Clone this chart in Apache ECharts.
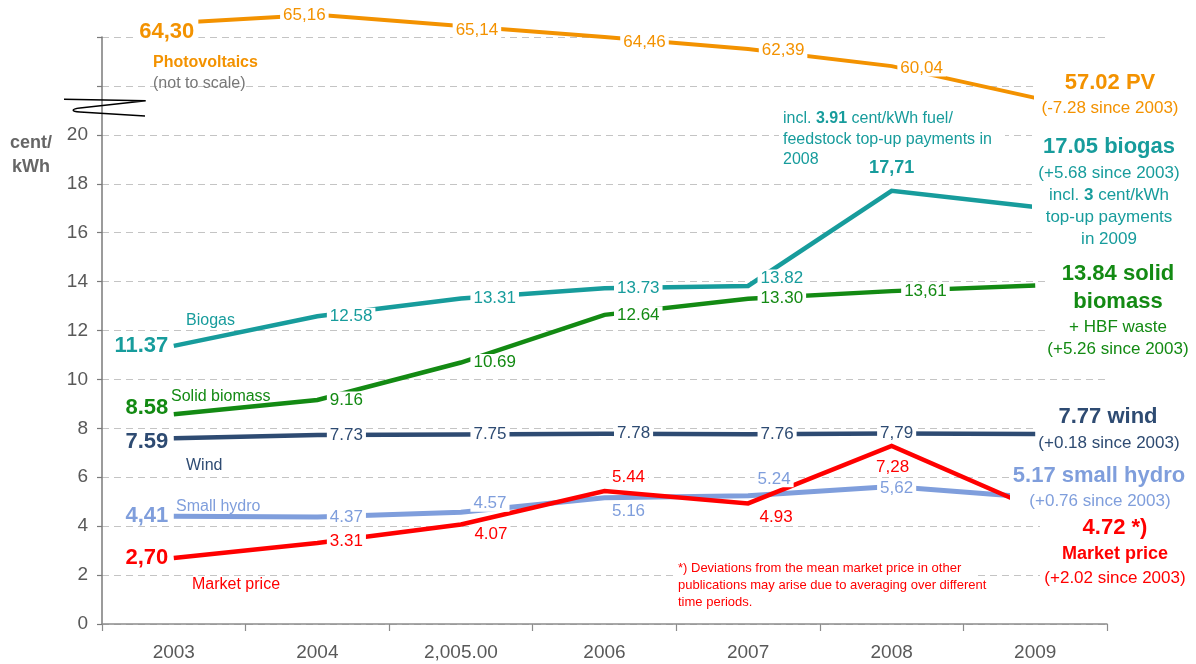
<!DOCTYPE html>
<html><head><meta charset="utf-8">
<script src="https://cdn.jsdelivr.net/npm/echarts@6/dist/echarts.min.js"></script>
<style>html,body{margin:0;padding:0;background:#fff}#c{width:1196px;height:664px}</style>
</head><body><div id="c"></div>
<script>
// ---------- data ----------
const years = ['2003', '2004', '2,005.00', '2006', '2007', '2008', '2009'];
const pvValues = [64.30, 65.16, 65.14, 64.46, 62.39, 60.04, 57.02];
// PV drawn "not to scale" above the axis break: heights
const pvPlotted = [24.57, 24.91, 24.45, 24.00, 23.51, 22.81, 21.51];
const biogas = [11.37, 12.58, 13.31, 13.73, 13.82, 17.71, 17.05];
const solidBiomass = [8.58, 9.16, 10.69, 12.64, 13.30, 13.61, 13.84];
const wind = [7.59, 7.73, 7.75, 7.78, 7.76, 7.79, 7.77];
const smallHydro = [4.41, 4.37, 4.57, 5.16, 5.24, 5.62, 5.17];
const marketPrice = [2.70, 3.31, 4.07, 5.44, 4.93, 7.28, 4.72];
const yTickLabels = [0, 2, 4, 6, 8, 10, 12, 14, 16, 18, 20];

// ---------- styles ----------
const FONT = '"Liberation Sans", Arial, Helvetica, sans-serif';
const C = {pv:'#F39200', biogas:'#179C9C', biomass:'#138A13', wind:'#2E4B72', hydro:'#7F9EDC', market:'#FF0000', axis:'#595959', grid:'#C4C4C4'};

// label placement per point (style only)
const pvLab = [
  {p:'inside', o:[-7,9], bold:true, size:22, comma:true, pad:[2,4]},
  {p:'inside', o:[-13,1], comma:true},
  {p:'inside', o:[16,4], comma:true},
  {p:'inside', o:[40,5], comma:true},
  {p:'inside', o:[35,1], comma:true},
  {p:'inside', o:[30,2], comma:true},
  null];
const biogasLab = [
  {p:'left', d:5, bold:true, size:22, bg:false},
  {p:'right'}, {p:'right'}, {p:'right'}, {p:'right', o:[0,-8]},
  {p:'top', d:13, bold:true, size:18, comma:true, bg:false},
  null];
const biomassLab = [
  {p:'left', d:5, bold:true, size:22, bg:false, o:[0,-6]},
  {p:'right'}, {p:'right'}, {p:'right'}, {p:'right'}, {p:'right', comma:true},
  null];
const windLab = [
  {p:'left', d:5, bold:true, size:22, bg:false, o:[0,4]},
  {p:'right'}, {p:'right'}, {p:'right'}, {p:'right'},
  {p:'inside', o:[5,0], comma:true},
  null];
const hydroLab = [
  {p:'left', d:5, bold:true, size:22, bg:false, comma:true},
  {p:'right'}, {p:'right', o:[0,-9]},
  {p:'inside', o:[24,14]}, {p:'inside', o:[26,-17]},
  {p:'inside', o:[5,2], comma:true},
  null];
const marketLab = [
  {p:'left', d:5, bold:true, size:22, bg:false, comma:true},
  {p:'right', o:[0,-2]},
  {p:'inside', o:[30,10]}, {p:'inside', o:[24,-14]}, {p:'inside', o:[28,14]},
  {p:'inside', o:[1,21], comma:true},
  null];

function fmt(v, comma){ const s = v.toFixed(2); return comma ? s.replace('.', ',') : s; }

function labelItems(plotted, shown, color, cfgs){
  return plotted.map((v, i) => {
    const c = cfgs[i];
    if (!c) return {value: v, label: {show: false}};
    const bg = c.bg !== false;
    return {value: v, label: {
      show: true, position: c.p, distance: c.d != null ? c.d : 9, offset: c.o || [0,0],
      formatter: fmt(shown[i], c.comma), color: color, fontFamily: FONT,
      fontSize: c.size || 17, fontWeight: c.bold ? 'bold' : 'normal',
      backgroundColor: bg ? '#fff' : 'transparent', padding: bg ? (c.pad || [0,3]) : 0
    }};
  });
}
function lineSeries(name, data, color, width){
  return {name, type:'line', data, z:2, symbol:'none', clip:false, silent:true,
    lineStyle:{color, width, cap:'butt', join:'miter'}};
}
function labelSeries(name, data, shown, color, cfgs){
  return {name: name + ' labels', type:'line', data: labelItems(data, shown, color, cfgs), z:5,
    symbol:'circle', symbolSize:1, clip:false, silent:true, itemStyle:{color:'transparent'},
    lineStyle:{width:0, opacity:0}};
}

// ---------- annotations ----------
const G = [];
function txt(x, y, text, size, color, opt){
  opt = opt || {};
  const st = {text, fill:color, font:(opt.bold?'bold ':'') + size + 'px ' + FONT,
    align: opt.align || 'center', verticalAlign:'middle'};
  if (opt.rich) st.rich = opt.rich;
  G.push({type:'text', x, y, z:101, silent:true, style:st});
}
function box(x, y, w, h){ G.push({type:'rect', z:100, silent:true, shape:{x, y, width:w, height:h}, style:{fill:'#fff'}}); }
function rich(size, color){
  return {n:{fontSize:size, fontFamily:FONT, fill:color}, b:{fontSize:size, fontFamily:FONT, fontWeight:'bold', fill:color}};
}

// axis break symbol
const brk = {stroke:'#000', lineWidth:1.6, fill:null};
G.push({type:'polyline', z:100, silent:true, shape:{points:[[64,99.3],[145.7,100.7],[80,108]]}, style:brk});
G.push({type:'bezierCurve', z:100, silent:true, shape:{x1:80, y1:108, x2:80, y2:112, cpx1:71, cpy1:109, cpx2:71, cpy2:111.5}, style:brk});
G.push({type:'line', z:100, silent:true, shape:{x1:80, y1:112, x2:145, y2:116}, style:brk});

txt(10, 143, 'cent/', 18, '#666', {bold:true, align:'left'});
txt(12, 167, 'kWh', 18, '#666', {bold:true, align:'left'});
txt(153, 63, 'Photovoltaics', 16, C.pv, {bold:true, align:'left'});
txt(153, 84, '(not to scale)', 16, '#777', {align:'left'});

txt(186, 321, 'Biogas', 16, C.biogas, {align:'left'});
txt(171, 397, 'Solid biomass', 16, C.biomass, {align:'left'});
txt(186, 466, 'Wind', 16, C.wind, {align:'left'});
txt(176, 507, 'Small hydro', 16, C.hydro, {align:'left'});
txt(192, 585, 'Market price', 16, C.market, {align:'left'});

// biogas 2008 note
box(779, 107, 226, 43);
box(779, 150, 42, 20);
txt(783, 119, '{n|incl. }{b|3.91}{n| cent/kWh fuel/}', 16, C.biogas, {align:'left', rich:rich(16, C.biogas)});
txt(783, 140, 'feedstock top-up payments in', 16, C.biogas, {align:'left'});
txt(783, 160, '2008', 16, C.biogas, {align:'left'});

// right side blocks
box(1034, 68, 158, 54);
txt(1110, 83, '57.02 PV', 22, C.pv, {bold:true});
txt(1110, 108, '(-7.28 since 2003)', 17, C.pv);

box(1032, 130, 162, 122);
txt(1109, 147, '17.05 biogas', 22, C.biogas, {bold:true});
txt(1109, 173, '(+5.68 since 2003)', 17, C.biogas);
txt(1109, 195, '{n|incl. }{b|3}{n| cent/kWh}', 17, C.biogas, {rich:rich(17, C.biogas)});
txt(1109, 217, 'top-up payments', 17, C.biogas);
txt(1109, 239, 'in 2009', 17, C.biogas);

box(1045, 259, 149, 103);
txt(1118, 274, '13.84 solid', 22, C.biomass, {bold:true});
txt(1118, 302, 'biomass', 22, C.biomass, {bold:true});
txt(1118, 327, '+ HBF waste', 17, C.biomass);
txt(1118, 349, '(+5.26 since 2003)', 17, C.biomass);

box(1038, 403, 154, 54);
txt(1108, 417, '7.77 wind', 22, C.wind, {bold:true});
txt(1109, 443, '(+0.18 since 2003)', 17, C.wind);

box(1010, 462, 184, 52);
txt(1099, 476, '5.17 small hydro', 22, C.hydro, {bold:true});
txt(1100, 501, '(+0.76 since 2003)', 17, C.hydro);

box(1040, 514, 154, 78);
txt(1115, 528, '4.72 *)', 22, C.market, {bold:true});
txt(1115, 554, 'Market price', 18, C.market, {bold:true});
txt(1115, 578, '(+2.02 since 2003)', 17, C.market);

// footnote
box(675, 559, 300, 52);
txt(678, 568, '*) Deviations from the mean market price in other', 13, C.market, {align:'left'});
txt(678, 585, 'publications may arise due to averaging over different', 13, C.market, {align:'left'});
txt(678, 602, 'time periods.', 13, C.market, {align:'left'});

// ---------- chart ----------
const chart = echarts.init(document.getElementById('c'), null, {renderer:'canvas'});
chart.setOption({
  animation: false,
  backgroundColor: '#fff',
  textStyle: {fontFamily: FONT},
  grid: {left:102, right:89, top:37, bottom:40, containLabel:false},
  xAxis: {
    type:'category', data: years, boundaryGap: true,
    axisLine:{lineStyle:{color:'#8C8C8C', width:1.5}},
    axisTick:{show:true, length:7, lineStyle:{color:'#8C8C8C', width:1.2}},
    axisLabel:{color:C.axis, fontSize:19, fontFamily:FONT, margin:19},
    splitLine:{show:false}
  },
  yAxis: {
    type:'value', min:0, max:24, interval:2,
    axisLine:{show:true, lineStyle:{color:'#7A7A7A', width:1.5}},
    axisTick:{show:true, length:5, lineStyle:{color:'#7A7A7A', width:1.2}},
    axisLabel:{color:C.axis, fontSize:19, fontFamily:FONT, margin:14,
      formatter: v => (yTickLabels.indexOf(v) >= 0 ? String(v) : '')},
    splitLine:{show:true, lineStyle:{color:C.grid, type:[7,5], width:1}}
  },
  series: [
    lineSeries('Photovoltaics', pvPlotted, C.pv, 4),
    lineSeries('Biogas', biogas, C.biogas, 4.5),
    lineSeries('Solid biomass', solidBiomass, C.biomass, 4.5),
    lineSeries('Wind', wind, C.wind, 4.5),
    lineSeries('Small hydro', smallHydro, C.hydro, 5),
    lineSeries('Market price', marketPrice, C.market, 4.5),
    labelSeries('Photovoltaics', pvPlotted, pvValues, C.pv, pvLab),
    labelSeries('Biogas', biogas, biogas, C.biogas, biogasLab),
    labelSeries('Solid biomass', solidBiomass, solidBiomass, C.biomass, biomassLab),
    labelSeries('Wind', wind, wind, C.wind, windLab),
    labelSeries('Small hydro', smallHydro, smallHydro, C.hydro, hydroLab),
    labelSeries('Market price', marketPrice, marketPrice, C.market, marketLab)
  ],
  graphic: G
});
</script></body></html>
